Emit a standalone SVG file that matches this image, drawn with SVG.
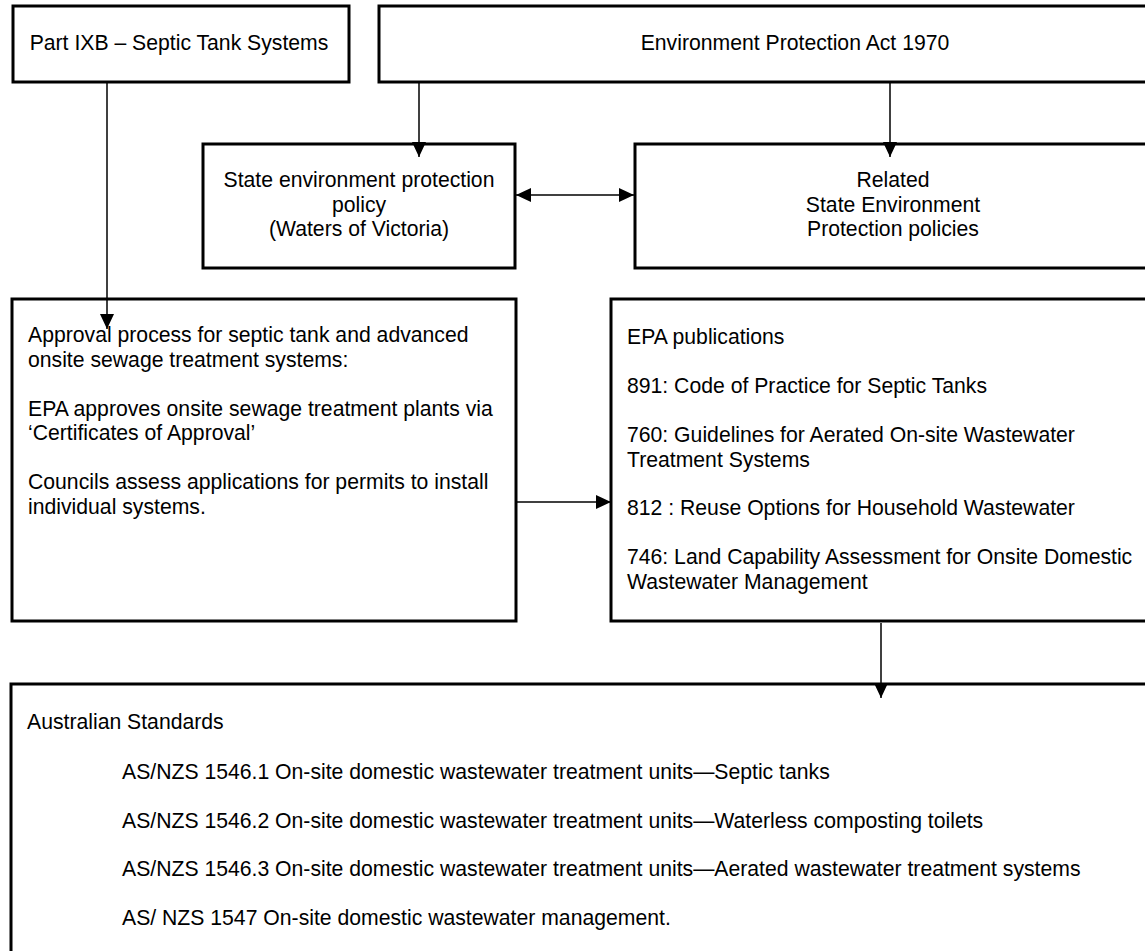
<svg xmlns="http://www.w3.org/2000/svg" width="1145" height="951" viewBox="0 0 1145 951">
<style>
.box{fill:#fff;stroke:#000;stroke-width:3}
.t{font-family:"Liberation Sans",Arial,sans-serif;font-size:21.2px;fill:#000}
.c{text-anchor:middle}
.ln{stroke:#000;stroke-width:1.5;fill:none}
</style>
<defs>
<marker id="ah" markerUnits="userSpaceOnUse" markerWidth="16" markerHeight="16" viewBox="0 0 16 16" refX="15" refY="7" orient="auto-start-reverse">
<path d="M0,0 L15,7 L0,14 Z" fill="#000"/>
</marker>
</defs>
<rect width="1145" height="951" fill="#fff"/>
<g id="n-part">
<rect class="box" x="13" y="6" width="336" height="76"/>
<text class="t c" x="179" y="50">Part IXB – Septic Tank Systems</text>
</g>
<g id="n-act">
<rect class="box" x="379" y="6" width="832" height="76"/>
<text class="t c" x="795" y="50">Environment Protection Act 1970</text>
</g>
<g id="n-state">
<rect class="box" x="203" y="144" width="312" height="124"/>
<text class="t c" x="359" y="187">State environment protection</text>
<text class="t c" x="359" y="211.5">policy</text>
<text class="t c" x="359" y="236">(Waters of Victoria)</text>
</g>
<g id="n-related">
<rect class="box" x="635" y="144" width="516" height="124"/>
<text class="t c" x="893" y="187">Related</text>
<text class="t c" x="893" y="211.5">State Environment</text>
<text class="t c" x="893" y="236">Protection policies</text>
</g>
<g id="n-approval">
<rect class="box" x="12" y="299" width="504" height="322"/>
<text class="t" x="28" y="342">Approval process for septic tank and advanced</text>
<text class="t" x="28" y="366.5">onsite sewage treatment systems:</text>
<text class="t" x="28" y="415.5">EPA approves onsite sewage treatment plants via</text>
<text class="t" x="28" y="440">‘Certificates of Approval’</text>
<text class="t" x="28" y="489">Councils assess applications for permits to install</text>
<text class="t" x="28" y="513.5">individual systems.</text>
</g>
<g id="n-epa">
<rect class="box" x="611" y="299" width="560" height="322"/>
<text class="t" x="627" y="344">EPA publications</text>
<text class="t" x="627" y="393">891: Code of Practice for Septic Tanks</text>
<text class="t" x="627" y="442">760: Guidelines for Aerated On-site Wastewater</text>
<text class="t" x="627" y="466.5">Treatment Systems</text>
<text class="t" x="627" y="515">812 : Reuse Options for Household Wastewater</text>
<text class="t" x="627" y="564">746: Land Capability Assessment for Onsite Domestic</text>
<text class="t" x="627" y="588.5">Wastewater Management</text>
</g>
<g id="n-aus">
<rect class="box" x="11" y="684" width="1160" height="300"/>
<text class="t" x="27" y="729">Australian Standards</text>
<text class="t" x="122" y="779">AS/NZS 1546.1 On-site domestic wastewater treatment units—Septic tanks</text>
<text class="t" x="122" y="828">AS/NZS 1546.2 On-site domestic wastewater treatment units—Waterless composting toilets</text>
<text class="t" x="122" y="876">AS/NZS 1546.3 On-site domestic wastewater treatment units—Aerated wastewater treatment systems</text>
<text class="t" x="122" y="925">AS/ NZS 1547 On-site domestic wastewater management.</text>
</g>
<g id="connectors">
<line class="ln" x1="107" y1="82" x2="107" y2="329" marker-end="url(#ah)"/>
<line class="ln" x1="419" y1="82" x2="419" y2="157" marker-end="url(#ah)"/>
<line class="ln" x1="890" y1="82" x2="890" y2="157" marker-end="url(#ah)"/>
<line class="ln" x1="516" y1="195" x2="634" y2="195" marker-start="url(#ah)" marker-end="url(#ah)"/>
<line class="ln" x1="516" y1="502" x2="611" y2="502" marker-end="url(#ah)"/>
<line class="ln" x1="881" y1="623" x2="881" y2="698" marker-end="url(#ah)"/>
</g>
</svg>
